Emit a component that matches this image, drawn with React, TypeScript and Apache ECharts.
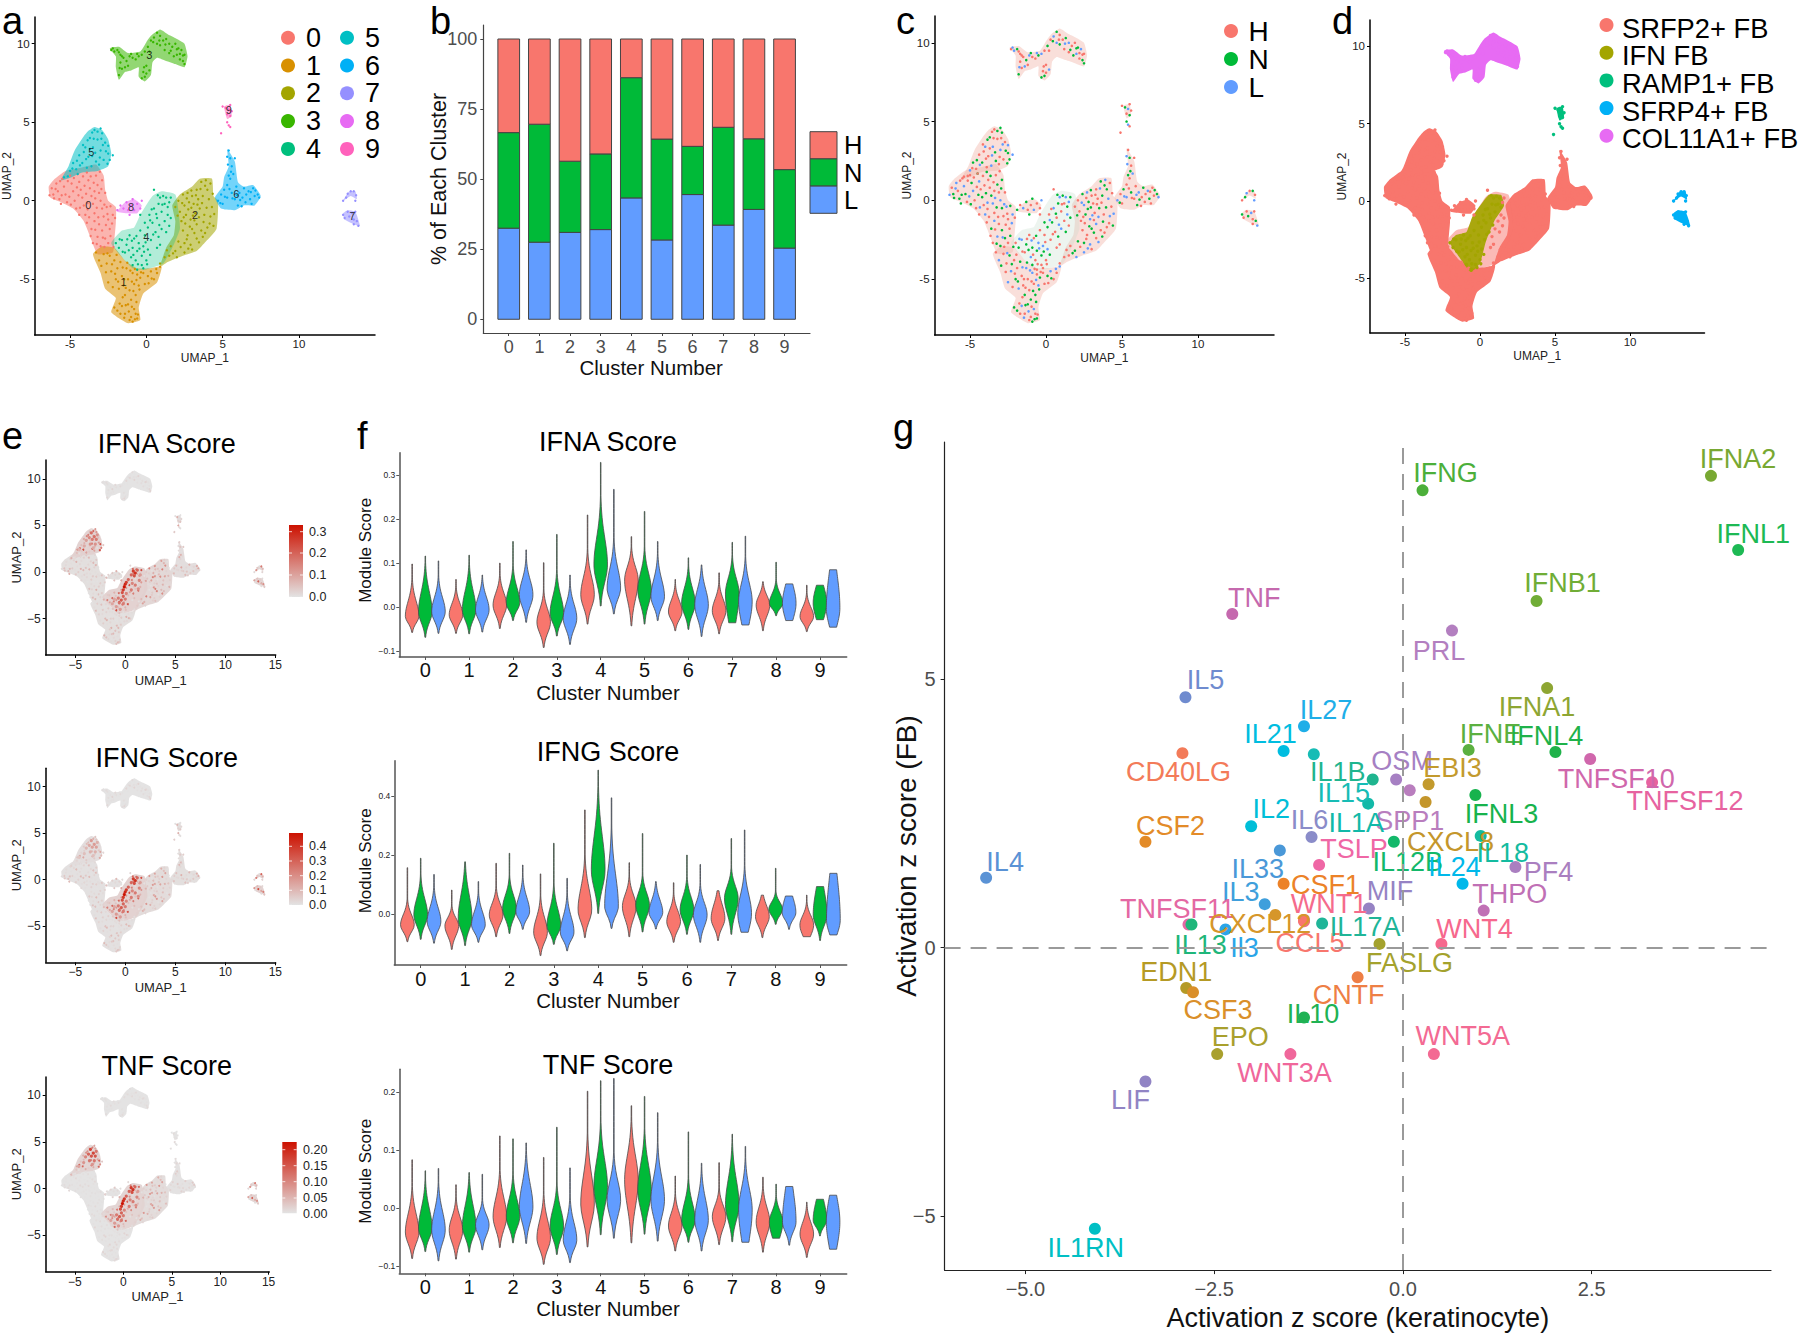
import React, { useEffect, useRef } from "react";
import * as echarts from "echarts";

const FONT = "Liberation Sans";

// ---- UMAP cells, one list per cluster ----
const cells0 = [[-6.2,0.8],[-6.1,0.4],[-5.9,1.1],[-5.8,0.6],[-5.7,0.1],[-5.5,1.4],[-5.4,0.9],[-5.3,0.4],[-5.2,-0.1],[-5.0,1.6],[-4.9,1.1],[-4.8,0.6],[-4.7,0.0],[-4.6,-0.5],[-4.5,1.7],[-4.4,1.2],[-4.3,0.7],[-4.2,0.2],[-4.1,-0.3],[-4.0,-0.9],[-3.9,1.8],[-3.8,1.3],[-3.7,0.8],[-3.6,0.3],[-3.5,-0.2],[-3.4,-0.8],[-3.9,-1.4],[-3.6,-1.8],[-3.4,-1.3],[-3.3,1.6],[-3.2,1.0],[-3.1,0.5],[-3.0,0.0],[-2.9,-0.5],[-2.8,-1.0],[-3.1,-1.5],[-2.9,-1.9],[-2.6,-0.4],[-2.5,-1.2],[-2.4,-1.8],[-2.7,-2.4],[-3.2,-2.3],[-3.5,-2.7],[-3.0,-2.9],[-2.5,-2.7],[-2.2,-0.9],[-2.9,1.3],[-3.4,0.6],[-4.4,-0.9],[-5.6,-0.2],[-6.35,0.35],[-2.05,-1.1],[-2.7,0.5],
  [-6.05,0.15],[-5.95,0.75],[-5.65,1.25],[-5.55,0.35],[-5.15,1.25],[-5.05,0.25],[-4.95,-0.25],[-4.75,1.45],[-4.55,0.85],[-4.45,0.35],[-4.35,-0.45],[-4.15,1.55],[-4.05,0.95],[-3.95,0.45],[-3.85,-0.15],[-3.75,-1.05],[-3.65,1.55],[-3.45,1.15],[-3.35,0.15],[-3.25,-0.45],[-3.15,-1.05],[-3.05,1.85],[-2.95,0.75],[-2.75,-0.25],[-2.65,-1.55],[-2.55,-0.85],[-2.35,-0.35],[-2.25,-1.45],[-2.75,-2.95],[-3.25,-2.75],[-3.35,-1.85],[-2.85,-2.35],[-2.35,-2.25],[-3.65,-2.25],[-3.85,-0.55],[-2.15,-2.95]];
const cells1 = [[-3.1,-3.8],[-2.8,-3.4],[-2.6,-4],[-2.4,-3.5],[-2.3,-4.5],[-2.1,-3.8],[-2,-5],[-1.9,-4.3],[-1.8,-5.6],[-1.7,-3.9],[-1.6,-4.8],[-1.5,-5.4],[-1.4,-6],[-1.3,-4.3],[-1.2,-5],[-1.1,-5.7],[-1,-6.3],[-0.9,-4.6],[-0.8,-5.3],[-0.7,-6],[-0.6,-4.7],[-0.5,-5.4],[-0.4,-4.9],[-0.2,-4.6],[-0.1,-5.3],[0.1,-4.8],[0.3,-4.5],[0.5,-5],[0.7,-4.6],[-1.9,-7],[-1.6,-6.7],[-1.4,-7.2],[-1.2,-6.6],[-1,-7.4],[-0.8,-6.9],[-0.6,-7.5],[-0.7,-7.2],[-1.7,-7.2],[-2.1,-6.8],[-2.5,-5.2],[-2.2,-5.5],[-1.1,-7.6],[-0.9,-7.7],[0.9,-4.2],[-3.3,-3.3],
  [-2.95,-4.15],[-2.65,-4.55],[-2.55,-3.35],[-2.25,-4.05],[-2.05,-4.65],[-1.95,-3.45],[-1.85,-5.15],[-1.55,-4.25],[-1.45,-5],[-1.35,-5.55],[-1.25,-3.95],[-1.05,-4.45],[-0.95,-5.15],[-0.85,-5.75],[-0.75,-4.35],[-0.65,-5.05],[-0.45,-5.65],[-0.35,-4.55],[0.15,-5.25],[0.35,-4.95],[0.65,-4.35],[-1.55,-6.15],[-1.75,-6.55],[-1.35,-6.65],[-1.15,-7.05],[-0.95,-6.75],[-0.75,-7.55],[-0.55,-7.25],[-1.45,-7.45],[-0.65,-6.45]];
const cells2 = [[1.9,-0.4],[2.1,0],[2.4,0.4],[2.7,0.5],[3,0.3],[3.3,0.7],[3.6,1.2],[3.9,1.3],[4.2,1.1],[4,0.7],[2.2,-0.7],[2.5,-0.3],[2.8,-0.1],[3.1,-0.2],[3.4,0.1],[3.7,0.3],[4.1,0.1],[4.3,-0.4],[2.3,-1.3],[2.6,-0.9],[2.9,-1.2],[3.2,-0.8],[3.5,-0.5],[3.8,-0.9],[4.2,-1],[4.4,-1.6],[2.4,-1.9],[2.7,-2.2],[3,-1.8],[3.3,-1.5],[3.6,-1.9],[4,-1.7],[2.5,-2.7],[2.9,-2.8],[3.3,-2.4],[3.7,-2.3],[3,-3.1],[2.5,-3.3],[1.9,-3.2],[1.5,-3.5],[1.2,-3.6],[2.1,-2.6],[2,-3.6],[1.6,-2.9],[0.9,-4],
  [2.05,-0.95],[2.35,-0.15],[2.65,0.15],[2.95,0.65],[3.25,0.35],[3.55,0.75],[3.85,0.95],[4.35,0.45],[2.45,-1.05],[2.75,-0.55],[3.05,-0.95],[3.35,-0.25],[3.65,-0.15],[3.95,-0.45],[4.45,-0.85],[2.55,-1.45],[2.85,-1.65],[3.15,-1.25],[3.45,-1.05],[3.75,-1.35],[4.15,-1.45],[2.65,-2.45],[3.15,-2.05],[3.45,-2.65],[3.85,-2.05],[2.25,-2.95],[1.75,-3.35],[2.75,-3.05],[1.35,-3.15],[2.95,-0.45]];
const cells3 = [[-2.3,9.6],[-2.1,9.5],[-1.9,9.6],[-1.7,9.3],[-1.5,9.1],[-1.3,8.9],[-1.1,9.2],[-0.9,9.1],[-0.7,9],[-0.5,9.2],[-0.3,9.3],[-0.1,9.5],[0.1,9.8],[0.3,10.2],[0.5,10.4],[0.7,10.7],[0.9,10.5],[1.1,10.2],[1.3,10.3],[1.5,10],[1.7,9.8],[1.9,10],[2.1,9.7],[2.3,9.6],[2.5,9.3],[2.4,8.9],[2.2,9],[2,9.3],[1.8,9.2],[1.5,9.4],[1.2,9.6],[0.9,9.9],[0.7,10],[-1.7,8.8],[-1.6,8.4],[-1.8,8],[-1.4,8.5],[-0.2,8.2],[-0.1,7.9],[0,8.1],[0.2,8.3],[-0.3,7.8],[0,8.6],[-1.2,8.6],[2.5,8.7],
  [-2.2,9.7],[-1.8,9.45],[-1.6,9.2],[-1,9.35],[-0.6,9.35],[0.2,9.5],[0.45,10.1],[0.85,10.2],[1.25,9.95],[1.6,9.55],[2.2,9.35],[2.4,9.25],[2,9.65],[-1.75,8.45],[-0.15,8.5]];
const cells4Core = [[-2,-2.7],[-1.8,-3],[-1.6,-2.5],[-1.4,-3.3],[-1.3,-2.8],[-1.1,-2.2],[-1,-3.6],[-0.9,-3],[-0.8,-2.4],[-0.7,-3.8],[-0.6,-3.2],[-0.5,-2.7],[-0.4,-1.9],[-0.3,-4.1],[-0.3,-3.5],[-0.2,-2.9],[-0.1,-2.2],[-0.1,-1.4],[0,-3.8],[0.1,-3.1],[0.1,-1.7],[0.2,-0.9],[0.3,-2.5],[0.4,-1.4],[0.5,-0.5],[0.6,-2],[0.7,-1.1],[0.8,-0.2],[0.9,0.2],[1,-0.7],[1.1,0.3],[1.2,-0.2],[1.3,0.2],[1.4,-0.4],[-0.2,-4.3],[-0.6,-4.4],[-0.9,-4.1],
  [-1.75,-2.45],[-1.55,-3.25],[-1.25,-2.45],[-1.15,-3.15],[-0.95,-2.55],[-0.85,-3.45],[-0.65,-2.25],[-0.55,-4.05],[-0.45,-3.05],[-0.15,-3.25],[-0.05,-2.65],[0.05,-4.05],[0.25,-3.45],[0.25,-1.25],[0.45,-2.15],[0.35,-0.55],[0.65,-0.85],[0.85,-1.55],[1.05,-0.25],[0.75,0.35]];
const cells4Fringe = [[0.8,-2.3],[1,-1.8],[1.2,-1.3],[1.3,-2],[1.5,-1.6],[1.4,-0.9],[1.6,-1.1],[0.7,-3],[0.9,-2.8],[1.6,0.2],[1.5,-0.1],[-0.4,-0.9],[0.5,0.7]];
const cells5 = [[-5.4,1.5],[-5,1.9],[-4.8,2.4],[-4.6,2],[-4.4,2.9],[-4.2,2.4],[-4,3.4],[-3.9,2.1],[-3.8,2.8],[-3.7,4],[-3.5,3.4],[-3.4,4.5],[-3.3,2.5],[-3.2,3.9],[-3,3.2],[-2.9,4.3],[-2.8,2.6],[-2.7,3.7],[-2.5,3],[-3.6,2.2],[-3.1,2.3],[-4.5,1.7],[-2.4,2.6],[-2.2,2.9],[-3.7,3.3],[-3.2,4.4],[-4.1,3.1],[-2.5,3.5],[-3,4.6],
  [-5.15,1.55],[-4.85,2.05],[-4.55,2.55],[-4.35,2.25],[-4.15,3.55],[-3.95,2.65],[-3.85,3.85],[-3.55,2.85],[-3.45,3.95],[-3.35,3.05],[-3.05,2.75],[-2.85,3.55],[-2.65,3.15],[-2.95,3.95],[-3.55,4.35],[-2.55,2.35]];
const cells6 = [[4.7,0],[4.9,0.4],[5,-0.2],[5.1,0.7],[5.3,0.2],[5.3,1],[5.4,1.6],[5.4,3.2],[5.3,2.8],[5.5,2.7],[5.6,2.2],[5.5,1.4],[5.6,0.5],[5.7,1.7],[5.8,0.1],[5.9,0.9],[6,-0.3],[6.1,0.5],[6.3,0.2],[6.4,0.8],[6.5,-0.1],[6.7,0.6],[6.8,0.1],[7,0.8],[7.1,0.3],[7.3,0.4],[7.4,0.2],[5.8,2.7],[6.9,-0.2],
  [4.85,-0.15],[5.15,0.25],[5.45,0.75],[5.55,1.85],[5.65,0.15],[5.95,0.35],[6.15,0.05],[6.55,0.4],[6.85,0.55],[7.15,0.65],[5.35,2.3],[6.25,-0.35]];
const cells7 = [[12.9,0],[13.1,0.2],[13.2,0.45],[13.4,0.6],[13.6,0.6],[13.75,0.35],[13.7,0],[12.9,-0.9],[13,-1.1],[13.2,-0.7],[13.3,-1],[13.5,-0.8],[13.6,-1.2],[13.7,-0.7],[13.8,-1.3],[13.9,-1.6],[13.6,-1.5]];
const cells8 = [[-1.9,-0.6],[-1.7,-0.3],[-1.5,-0.5],[-1.3,-0.1],[-1.2,-0.6],[-1,-0.3],[-0.9,0.1],[-0.8,-0.6],[-0.6,-0.2],[-0.4,-0.5],[-1.1,-0.9],[-0.3,0]];
const cells9 = [[5,6],[5.2,5.9],[5.3,5.5],[5.4,5.8],[5.5,5.4],[5.5,6.1],[5.6,5.7],[5.3,5],[5.4,4.8],[4.9,4.3],[5.5,4.7]];
const cellLists = [cells0, cells1, cells2, cells3, cells4Core, cells5, cells6, cells7, cells8, cells9, cells4Fringe];
const cellListCluster = [0, 1, 2, 3, 4, 5, 6, 7, 8, 9, 4];

// dense parts of the clusters, read as outlines in UMAP units
const outline0 = [[-6.4,0.9],[-6,1.4],[-5.3,1.9],[-4.3,2.1],[-3.3,2.3],[-2.8,1.6],[-2.7,0.7],[-2.5,0],[-2,-0.4],[-2,-1.4],[-2.1,-2.5],[-2.2,-3.3],[-3.2,-3.4],[-3.6,-2.5],[-4.1,-1.3],[-4.8,-0.5],[-5.6,-0.1],[-6.3,0.2]];
const outline1 = [[-3.5,-3.4],[-2.9,-2.9],[-2.1,-3],[-1.4,-3.8],[-0.6,-4.3],[0.2,-4.3],[1,-4.2],[0.7,-5.2],[-0.2,-5.9],[-0.5,-6.8],[-0.4,-7.6],[-1.2,-7.8],[-2.3,-7.1],[-2,-6.2],[-2.7,-5.6],[-3,-4.6]];
const outline2 = [[1.7,-0.3],[2.2,0.4],[3,0.9],[3.5,1.4],[4.3,1.4],[4.4,0.3],[4.7,0],[4.6,-1.8],[3.9,-2.6],[3.3,-3.2],[2.4,-3.5],[1.4,-3.9],[0.9,-4.2],[1.3,-3],[1.8,-2.2],[1.9,-1.3]];
const outline3 = [[-2.4,9.7],[-1.8,9.8],[-1.2,9.4],[-0.4,9.5],[0,10.1],[0.3,10.5],[0.9,10.9],[1.4,10.6],[2,10.3],[2.5,10],[2.7,9.2],[2.5,8.5],[1.9,8.7],[1.3,8.9],[0.7,9.1],[0.4,8.8],[0.3,8],[-0.1,7.6],[-0.5,7.9],[-0.5,8.5],[-1,8.3],[-1.4,8.2],[-1.8,7.7],[-2,8.5],[-2,9.2]];
const outline4 = [[-2.3,-2.7],[-1.6,-1.9],[-0.8,-1.7],[-0.4,-0.9],[0.4,0.3],[1,0.6],[1.9,0.4],[2.1,-0.6],[2.2,-1.8],[1.7,-3],[1.1,-4],[-0.1,-4.4],[-0.9,-4.3],[-1.6,-3.6]];
const outline5 = [[-5.6,1.3],[-5.1,2.2],[-4.7,3.2],[-4.1,4.1],[-3.8,4.45],[-3.4,4.7],[-2.9,4.5],[-2.5,3.9],[-2.3,3],[-2.5,2.2],[-3.2,1.9],[-4.2,1.8],[-4.9,1.5]];
const outline6 = [[4.5,0.2],[5,0.9],[5.1,1.5],[5.4,2.2],[5.3,3.3],[5.8,2.5],[6,1.2],[6.4,0.9],[7,1],[7.5,0.3],[7.1,-0.3],[6.4,-0.3],[5.8,-0.6],[4.9,-0.5]];
const outline7a = [[12.9,0],[13.3,0.6],[13.7,0.6],[13.8,0.1],[13.4,0.3]];
const outline7b = [[12.9,-0.8],[13.2,-0.6],[13.7,-0.7],[14,-1.6],[13.6,-1.5],[13,-1.2]];
const outline8 = [[-1.9,-0.7],[-1.4,-0.1],[-0.8,0.1],[-0.3,-0.3],[-0.6,-0.8],[-1.2,-0.8]];
const outline9 = [[5.1,6],[5.5,6.1],[5.6,5.4],[5.3,5.2]];
const outlineIfnCore = [[-2,-2.7],[-1.6,-2.2],[-0.9,-2],[-0.5,-1],[0.6,0.4],[1.4,0.4],[1.6,-0.3],[1,-1.2],[0.4,-2.6],[0,-4],[-0.6,-4.6],[-1.4,-3.6]];
const outlines = [outline0, outline1, outline2, outline3, outline4, outline5, outline6, outline7a, outline7b, outline8, outline9];
const outlineCluster = [0, 1, 2, 3, 4, 5, 6, 7, 7, 8, 9];

const clusterCentreLabels = ["0","1","2","3","4","5","6","7","8","9"];
const clusterCentres = [[-3.8,-0.3],[-1.5,-5.2],[3.2,-0.9],[0.2,9.3],[0,-2.3],[-3.6,3.1],[5.9,0.4],[13.5,-1],[-1,-0.4],[5.4,5.8]];

// ---- b ----
const clusterNames = ["0","1","2","3","4","5","6","7","8","9"];
const shareL = [32.5,27.5,31,32,43.3,28.3,44.5,33.6,39.2,25.4];
const shareN = [34.1,42.1,25.4,27,42.9,36,17.2,34.9,25.2,28];
const shareH = [33.4,30.4,43.6,41,13.8,35.7,38.3,31.5,35.6,46.6];

// ---- f: violins, [low, widest, shoulder, high, flat] H,N,L per cluster; flat: 1 bottom, 2 top, 3 both ----
const violinsIFNA = [
  [-.057,-.02,.04,.098,0],[-.068,-.01,.07,.116,0],[-.059,-.01,.047,.105,0],
  [-.059,-.017,.028,.063,0],[-.06,-.006,.07,.118,0],[-.056,-.006,.047,.073,0],
  [-.048,.005,.054,.1,0],[-.03,.01,.07,.149,0],[-.034,.028,.088,.13,0],
  [-.091,-.034,.017,.101,0],[-.065,-.014,.054,.165,0],[-.084,-.025,.032,.073,0],
  [-.038,.028,.1,.209,0],[.003,.096,.205,.328,0],[-.015,.043,.122,.267,0],
  [-.042,.062,.115,.16,0],[-.038,.039,.107,.217,0],[-.03,.024,.092,.149,0],
  [-.053,-.01,.035,.063,0],[-.05,.009,.07,.112,0],[-.066,.005,.07,.096,0],
  [-.06,-.008,.039,.078,0],[-.035,.032,.092,.147,1],[-.04,.013,.085,.161,1],
  [-.053,.005,.043,.058,0],[-.019,.009,.047,.102,0],[-.03,.009,.053,.053,3],
  [-.055,-.021,.017,.05,0],[-.028,.01,.05,.05,3],[-.045,-.002,.03,.085,3],
];
const violinsIFNG = [
  [-.094,-.037,.025,.157,0],[-.086,-.003,.093,.189,0],[-.099,-.026,.059,.134,0],
  [-.12,-.04,.008,.081,0],[-.107,-.015,.127,.177,0],[-.096,-.037,.042,.11,0],
  [-.077,-.003,.064,.172,0],[-.066,.019,.098,.206,0],[-.052,.008,.093,.166,0],
  [-.141,-.062,.025,.136,0],[-.103,-.04,.059,.24,0],[-.125,-.062,.03,.121,0],
  [-.08,.014,.144,.353,0],[.002,.149,.353,.488,0],[-.049,.025,.217,.394,0],
  [-.077,.025,.098,.174,0],[-.061,.03,.104,.273,0],[-.051,.005,.081,.11,0],
  [-.096,-.026,.042,.106,0],[-.069,.014,.093,.2,0],[-.096,-.003,.07,.168,0],
  [-.09,-.015,.07,.079,0],[-.069,.053,.127,.256,0],[-.062,.002,.115,.285,1],
  [-.08,-.009,.059,.064,0],[-.035,.016,.059,.155,0],[-.052,.005,.059,.061,2],
  [-.077,-.037,.019,.064,1],[-.09,-.003,.093,.093,2],[-.071,-.02,.036,.138,3],
];
const violinsTNF = [
  [-.087,-.042,.014,.083,0],[-.075,-.035,.025,.064,0],[-.091,-.038,.02,.068,0],
  [-.088,-.038,.002,.04,0],[-.076,-.032,.031,.061,0],[-.072,-.029,.002,.058,0],
  [-.068,-.015,.042,.124,0],[-.06,-.015,.037,.119,0],[-.061,.002,.071,.112,0],
  [-.097,-.052,.002,.087,0],[-.08,-.032,.02,.139,0],[-.094,-.055,-.003,.069,0],
  [-.067,.008,.094,.201,0],[-.046,.037,.117,.219,0],[-.052,.014,.071,.223,0],
  [-.06,.048,.123,.176,0],[-.045,.031,.106,.192,0],[-.057,.014,.083,.164,0],
  [-.074,-.031,.008,.055,0],[-.059,-.021,.031,.131,0],[-.074,-.021,.042,.077,0],
  [-.063,-.015,.02,.078,0],[-.058,.005,.083,.127,0],[-.059,-.003,.06,.106,1],
  [-.076,-.024,.02,.053,0],[-.052,-.024,.008,.041,1],[-.064,-.024,.008,.037,2],
  [-.085,-.045,-.009,.01,0],[-.048,-.021,.015,.015,2],[-.071,-.024,.022,.022,3],
];

// ---- e: how strong each cluster looks in the three feature plots (share of the colour bar) ----
const scoreIFNA = [.1,.1,.2,.03,.3,.3,.12,.25,.1,.12];
const scoreIFNG = [.08,.08,.15,.03,.3,.12,.1,.3,.08,.1];
const scoreTNF = [.02,.03,.15,.02,.25,.25,.05,.25,.05,.02];
const dotVariation = [0.2,1.6,0.5,0.1,2.0,0.8,0.3,1.2,0.1,0.6,2.4,0.4,1];
const hotCluster4 = [[-0.1,-1.6,1],[0,-1.3,.9],[-0.2,-1.9,.8],[0.1,-1.1,.8],[0.8,0.1,.8],[1,-0.1,.85],[0.9,-0.4,.7],[1.2,0.2,.6],[0.6,-0.3,.6],[0.3,-0.8,.6],[-0.2,-2.6,.6],[-0.4,-3,.65],[-0.6,-3.3,.55],[-0.2,-3.4,.5],[-0.7,-2.8,.5],[-0.9,-3.7,.35],[-0.5,-4,.35],[-1.1,-2.9,.3],[0,-2.9,.5],[0.6,-1.9,.5],[1,-1.4,.5],[1.4,-0.9,.45],[1.3,-1.8,.4],[0.7,-1.2,.45],[1.5,-0.3,.35],[-0.3,-2.2,.7],[0.1,-2.3,.45],[-1.3,-3.4,.3]];
const hotCluster5 = [[-3.4,4.2,1],[-3.1,3.8,1],[-3.3,3.5,.9],[-2.9,3.5,.9],[-3.6,3.7,.8],[-3,3,.7],[-3.5,3,.7],[-3.9,3.4,.6],[-2.8,4,.7],[-4.1,2.8,.5],[-3.2,2.6,.5],[-4.6,2.4,.4]];
const hot5Strength = [.55, .35, .75];

// ---- g ----
const genes = ["IFNA2","IFNG","IFNL1","IFNB1","TNF","PRL","IL5","IFNA1","IL27","IL21","IL15","CD40LG","IFNE","IFNL4","TNFSF10","TNFSF12","IL1B","OSM","SPP1","EBI3","CXCL8","IFNL3","IL2","IL6","IL1A","IL12B","IL18","CSF2","IL33","TSLP","PF4","IL24","CSF1","IL4","IL3","MIF","THPO","TNFSF11","IL13","WNT1","CXCL12","CCL5","IL17A","Il3","FASLG","WNT4","CNTF","EDN1","CSF3","IL10","EPO","WNT3A","WNT5A","LIF","IL1RN"];
const keratinocyteZ = [4.08,.26,4.44,1.77,-2.26,.65,-2.88,1.91,-1.31,-1.58,-1.18,-2.92,.87,2.02,2.48,3.3,-.4,-.09,.09,.34,.3,.96,-2.01,-1.21,-.46,-.12,1.03,-3.41,-1.63,-1.11,1.49,.79,-1.58,-5.52,-1.83,-.45,1.07,-2.84,-2.8,-1.31,-1.69,-1.31,-1.07,-2.35,-.31,.51,-.6,-2.87,-2.78,-1.31,-2.46,-1.49,.41,-3.41,-4.08];
const fibroblastZ = [8.78,8.51,7.4,6.45,6.21,5.9,4.66,4.83,4.12,3.66,3.6,3.62,3.68,3.64,3.51,3.08,3.13,3.13,2.93,3.04,2.71,2.84,2.26,2.06,2.68,1.97,2.08,1.97,1.81,1.54,1.5,1.19,1.19,1.3,.81,.73,.69,.43,.43,.49,.61,.51,.45,.34,.07,.07,-.55,-.75,-.83,-1.3,-1.98,-1.98,-1.98,-2.49,-5.23];
const geneColors = ["#78A832","#4CAF3A","#1DB954","#70AD36","#C569AE","#B37FC0","#6F8BCF","#8EA633","#1EAEE8","#00BDE0","#17BCB5","#F37B59","#5BB040","#1FB24A","#D067AC","#E763A0","#1FB58F","#A680C3","#B97EBE","#C39A2D","#C4962B","#17B34D","#00BED8","#8A8CC9","#12B9A8","#13B86A","#14BBA0","#E38B28","#4A98D8","#EF67A5","#AA7FC0","#00B8EA","#EC8228","#5A92D5","#3F9FDC","#9683C4","#C070B5","#E468A3","#1FB67A","#F56B8C","#D6962A","#F8766D","#20B598","#2BA5E8","#A4A22D","#F6688D","#EE7F45","#B59A25","#DA8F2A","#20B254","#A9A02D","#F0679B","#F36A93","#9184C4","#00BFC4"];
const geneLabelDx = [27,23,15,26,22,-13,20,-10,22,-13,30,-4,22,-9,26,33,-35,6,0,24,25,26,20,-2,-12,14,22,25,-22,35,33,-8,42,19,-24,21,26,-11,9,25,-15,6,43,19,30,33,-9,-10,25,9,23,-6,29,-15,-9];
const geneLabelDy = [-17,-17,-16,-18,-16,20,-17,19,-16,-17,39,19,-16,-16,20,19,-7,-18,31,-16,40,19,-17,-17,19,20,17,-16,19,-16,5,-17,1,-16,-12,-17,-17,-16,20,-17,9,23,4,19,19,-15,18,-16,18,-4,-17,19,-18,19,19];

// ---- colours ----
const clusterColors = ["#F8766D","#D89000","#A3A500","#39B600","#00BF7D","#00BFC4","#00B0F6","#9590FF","#E76BF3","#FF62BC"];
const conditionColors = { H: "#F8766D", N: "#00BA38", L: "#619CFF" };
const conditionCycle = ["H","N","L","H","N","H","L","N","H","H","N","L","H"];
const subtypeNames = ["SRFP2+ FB","IFN FB","RAMP1+ FB","SFRP4+ FB","COL11A1+ FB"];
const subtypeColors = ["#F8766D","#A3A500","#00BF7D","#00B0F6","#E76BF3"];
const clusterSubtype = [0,0,0,4,1,0,0,3,0,2];

function mix(a: string, b: string, t: number) {
  const k = Math.max(0, Math.min(1, t));
  const p = (h: string, i: number) => parseInt(h.slice(i, i + 2), 16);
  const c = [1, 3, 5].map((i) => Math.round(p(a, i) + (p(b, i) - p(a, i)) * k));
  return `rgb(${c[0]},${c[1]},${c[2]})`;
}
const GREY = "#E3E3E3";
const RED = "#CC1100";

function axis(gridIndex: number, min: number, max: number, ticks: number[], o: any) {
  const col = o.lineColor || "#000";
  return {
    type: "value", gridIndex, min, max,
    name: o.name, nameLocation: "middle", nameGap: o.nameGap, nameMoveOverlap: !o.freeName,
    nameTextStyle: { fontFamily: FONT, fontSize: o.nameSize, color: o.nameColor || "#222", fontWeight: o.nameWeight || "normal", padding: o.namePad || 0 },
    axisLine: { show: true, onZero: false, lineStyle: { color: col, width: o.lineWidth || 1.5 } },
    axisTick: { show: true, length: o.tickLen || 3, customValues: ticks, lineStyle: { color: col, width: 1 } },
    axisLabel: { show: true, customValues: ticks, margin: o.margin, fontFamily: FONT, fontSize: o.size, color: o.color || "#222", formatter: o.fmt || ((v: number) => String(v)) },
    splitLine: { show: false },
  };
}
const minusInt = (v: number) => String(v).replace("-", "\u2212");

export default function App() {
  const ref = useRef<HTMLDivElement>(null);
  useEffect(() => {
    document.body.style.margin = "0";
    const chart = echarts.init(ref.current!, undefined, { renderer: "svg" });
    const grid: any[] = [], xAxis: any[] = [], yAxis: any[] = [], series: any[] = [], graphic: any[] = [];

    const text = (t: string, x: number, y: number, size: number, o: any = {}) =>
      graphic.push({ type: "text", x, y, silent: true, style: { text: t, fontFamily: FONT, fontSize: size, fill: o.fill || "#000", align: o.align || "left", verticalAlign: "middle", fontWeight: o.weight || "normal" } });

    function addGrid(l: number, t: number, r: number, b: number) {
      grid.push({ left: l, top: t, width: r - l, height: b - t, containLabel: false, show: false });
      return grid.length - 1;
    }

    function regions(g: number, list: number[][][], style: (i: number) => { fill: string; opacity: number }) {
      series.push({
        type: "custom", xAxisIndex: g, yAxisIndex: g, silent: true, clip: true,
        data: list.map((o) => o[0]), encode: { x: 0, y: 1 },
        renderItem: (p: any, api: any) => {
          const pts = list[p.dataIndex].map((q) => api.coord(q));
          const s = style(p.dataIndex);
          return { type: "polygon", shape: { points: pts, smooth: 0.15 }, style: { fill: s.fill, opacity: s.opacity } };
        },
      });
    }
    function dots(g: number, color: (cluster: number, i: number, listIdx: number) => string, size: number) {
      const data: any[] = [];
      let n = 0;
      cellLists.forEach((list, li) => list.forEach((pt) => {
        data.push({ value: pt, itemStyle: { color: color(cellListCluster[li], n, li), opacity: 1 } });
        n++;
      }));
      series.push({ type: "scatter", xAxisIndex: g, yAxisIndex: g, silent: true, symbolSize: size, data });
    }
    const umapX = [-5, 0, 5, 10];
    const umapY = [-5, 0, 5, 10];

    // ---------- a ----------
    const gA = addGrid(33.7, 17, 375, 335);
    xAxis.push(axis(gA, -7.32, 14.99, umapX, { name: "UMAP_1", nameGap: 17, nameSize: 12, margin: 3, size: 11.5 }));
    yAxis.push(axis(gA, -8.55, 11.7, umapY, { name: "UMAP_2", nameGap: 19, nameSize: 12, margin: 5, size: 11.5 }));
    regions(gA, outlines, (i) => ({ fill: clusterColors[outlineCluster[i]], opacity: outlineCluster[i] === 4 ? 0.3 : 0.55 }));
    dots(gA, (c) => clusterColors[c], 2.4);
    series.push({
      type: "scatter", xAxisIndex: gA, yAxisIndex: gA, silent: true, symbolSize: 0,
      data: clusterCentres.map((v, i) => ({ value: v, name: clusterCentreLabels[i] })),
      label: { show: true, position: "inside", formatter: "{b}", fontFamily: FONT, fontSize: 11, color: "#000" },
    });
    clusterNames.forEach((n, i) => {
      const col = i < 5 ? 288 : 347;
      const y = 37.7 + (i % 5) * 27.8;
      graphic.push({ type: "circle", silent: true, shape: { cx: col, cy: y, r: 7 }, style: { fill: clusterColors[i] } });
      text(n, col + 18, y, 27);
    });

    // ---------- b ----------
    const gB = addGrid(483.3, 25, 810, 333);
    xAxis.push(axis(gB, -0.83, 9.83, [0,1,2,3,4,5,6,7,8,9], { name: "Cluster Number", nameGap: 23.5, nameSize: 20.5, nameColor: "#111", namePad: [0,0,0,9], margin: 5, size: 18, color: "#4d4d4d", lineColor: "#444", lineWidth: 1.2 }));
    yAxis.push(axis(gB, -4.9, 105, [0,25,50,75,100], { name: "% of Each Cluster", nameGap: 33, freeName: true, nameSize: 21.5, nameColor: "#111", margin: 6, size: 18, color: "#4d4d4d", lineColor: "#444", lineWidth: 1.2 }));
    const stackRows: number[][] = [];
    const stackColors: string[] = [];
    clusterNames.forEach((_, i) => {
      let base = 0;
      ([[shareL, conditionColors.L], [shareN, conditionColors.N], [shareH, conditionColors.H]] as [number[], string][]).forEach(([vals, color]) => {
        stackRows.push([i, base, base + vals[i]]);
        stackColors.push(color);
        base += vals[i];
      });
    });
    series.push({
      type: "custom", xAxisIndex: gB, yAxisIndex: gB, silent: true, clip: false,
      encode: { x: 0, y: [1, 2] }, data: stackRows,
      renderItem: (p: any, api: any) => {
        const a = api.coord([api.value(0), api.value(1)]);
        const b = api.coord([api.value(0), api.value(2)]);
        return { type: "rect", shape: { x: a[0] - 10.85, y: b[1], width: 21.7, height: a[1] - b[1] }, style: { fill: stackColors[p.dataIndex], stroke: "#444", lineWidth: 1 } };
      },
    });
    ["H", "N", "L"].forEach((n, i) => {
      graphic.push({ type: "rect", silent: true, shape: { x: 810, y: 131.7 + i * 27.2, width: 27, height: 27.2 }, style: { fill: (conditionColors as any)[n], stroke: "#444", lineWidth: 1 } });
      text(n, 844, 145 + i * 27.5, 25.5);
    });

    // ---------- c ----------
    const gC = addGrid(934.6, 16, 1274, 335);
    xAxis.push(axis(gC, -7.33, 15, umapX, { name: "UMAP_1", nameGap: 17, nameSize: 12, margin: 3, size: 11.5 }));
    yAxis.push(axis(gC, -8.55, 11.7, umapY, { name: "UMAP_2", nameGap: 21, nameSize: 12, margin: 5, size: 11.5 }));
    regions(gC, outlines, (i) => ({ fill: outlineCluster[i] === 4 ? "#C5DCC9" : "#F0B2A8", opacity: outlineCluster[i] === 4 ? 0.3 : 0.42 }));
    dots(gC, (c, i) => (conditionColors as any)[conditionCycle[i % conditionCycle.length]], 2.6);
    ["H", "N", "L"].forEach((n, i) => {
      const y = 31 + i * 28;
      graphic.push({ type: "circle", silent: true, shape: { cx: 1231, cy: y, r: 7 }, style: { fill: (conditionColors as any)[n] } });
      text(n, 1248.5, y, 28);
    });

    // ---------- d ----------
    const gD = addGrid(1370, 20, 1704.5, 333);
    xAxis.push(axis(gD, -7.33, 14.96, umapX, { name: "UMAP_1", nameGap: 17, nameSize: 12, margin: 3, size: 11.5 }));
    yAxis.push(axis(gD, -8.53, 11.7, umapY, { name: "UMAP_2", nameGap: 20, nameSize: 12, margin: 5, size: 11.5 }));
    regions(gD, [...outlines, outlineIfnCore], (i) => {
      if (i === outlines.length) return { fill: subtypeColors[1], opacity: 0.92 };
      const c = outlineCluster[i];
      if (c === 4) return { fill: subtypeColors[0], opacity: 0.5 };
      return { fill: subtypeColors[clusterSubtype[c]], opacity: 1 };
    });
    dots(gD, (c, i, li) => subtypeColors[li === 10 ? 0 : clusterSubtype[c]], 3.4);
    subtypeNames.forEach((n, i) => {
      const y = 25 + i * 27.7;
      graphic.push({ type: "circle", silent: true, shape: { cx: 1606.5, cy: y, r: 7 }, style: { fill: subtypeColors[i] } });
      text(n, 1622, y + 3, 27.3);
    });

    // ---------- e ----------
    const featurePanels = [
      { title: "IFNA Score", score: scoreIFNA, titleY: 444, box: [45.7, 460, 275.7, 655], xr: [-7.96, 15.04], yr: [-8.9, 12.03], xn: 18.5,
        bar: [289, 525, 303, 597], barLabels: [["0.3",531.7],["0.2",553],["0.1",575],["0.0",597.3]], labelX: 309, hot5: hot5Strength[0] },
      { title: "IFNG Score", score: scoreIFNG, titleY: 758.3, box: [45.7, 768.3, 275.7, 962.3], xr: [-7.96, 15.04], yr: [-8.87, 11.97], xn: 18.5,
        bar: [289, 833, 303, 905], barLabels: [["0.4",846.3],["0.3",861],["0.2",875.7],["0.1",890.3],["0.0",905.3]], labelX: 309, hot5: hot5Strength[1] },
      { title: "TNF Score", score: scoreTNF, titleY: 1066, box: [45.7, 1077, 269.3, 1271.7], xr: [-8.02, 15.07], yr: [-8.9, 11.97], xn: 18.5,
        bar: [282.3, 1142, 296.7, 1213.3], barLabels: [["0.20",1149.7],["0.15",1165.7],["0.10",1181.7],["0.05",1198],["0.00",1214.3]], labelX: 303, hot5: hot5Strength[2] },
    ];
    featurePanels.forEach((fp) => {
      const [l, t, r, b] = fp.box;
      const g = addGrid(l, t, r, b);
      xAxis.push(axis(g, fp.xr[0], fp.xr[1], [-5,0,5,10,15], { name: "UMAP_1", nameGap: fp.xn, nameSize: 13, margin: 4, size: 12, fmt: minusInt }));
      yAxis.push(axis(g, fp.yr[0], fp.yr[1], [-5,0,5,10], { name: "UMAP_2", nameGap: 22, nameSize: 13, margin: 5, size: 12, fmt: minusInt }));
      regions(g, outlines, (i) => ({ fill: mix(GREY, RED, fp.score[outlineCluster[i]] * 0.3), opacity: 0.95 }));
      dots(g, (c, i) => mix(GREY, RED, fp.score[c] * dotVariation[i % dotVariation.length]), 2);
      const hot = hotCluster4.map((h) => ({ value: [h[0], h[1]], itemStyle: { color: mix(GREY, RED, h[2]), opacity: 1 } }))
        .concat(hotCluster5.map((h) => ({ value: [h[0], h[1]], itemStyle: { color: mix(GREY, RED, h[2] * fp.hot5), opacity: 1 } })));
      series.push({ type: "scatter", xAxisIndex: g, yAxisIndex: g, silent: true, symbolSize: 3.2, data: hot });
      text(fp.title, 166.7, fp.titleY, 27, { align: "center" });
      const [bl, bt, br, bb] = fp.bar;
      graphic.push({ type: "rect", silent: true, shape: { x: bl, y: bt, width: br - bl, height: bb - bt },
        style: { fill: new echarts.graphic.LinearGradient(0, 0, 0, 1, [{ offset: 0, color: RED }, { offset: 1, color: GREY }]) } });
      (fp.barLabels as [string, number][]).forEach(([s, y]) => {
        text(s, fp.labelX, y, 12.5, { fill: "#222" });
        graphic.push({ type: "line", silent: true, shape: { x1: bl, y1: y, x2: bl + 3, y2: y }, style: { stroke: "#fff", lineWidth: 0.8 } });
        graphic.push({ type: "line", silent: true, shape: { x1: br - 3, y1: y, x2: br, y2: y }, style: { stroke: "#fff", lineWidth: 0.8 } });
      });
    });

    // ---------- f ----------
    const dodge = [-0.3, 0, 0.3];
    const violinFill = [conditionColors.H, conditionColors.N, conditionColors.L];
    const violinPanels = [
      { title: "IFNA Score", rows: violinsIFNA, titleY: 441.7, box: [399.3, 452.7, 846.7, 657], xr: [-0.593, 9.61], yr: [-0.1125, 0.35], ticks: [-.1,0,.1,.2,.3], yGap: 25, m: 3, xGap: 24.7, pad: [0,30,0,0], yPad: [0,0,0,9] },
      { title: "IFNG Score", rows: violinsIFNG, titleY: 752.3, box: [394.3, 760.7, 846.7, 965], xr: [-0.595, 9.6], yr: [-0.173, 0.52], ticks: [0,.2,.4], yGap: 20, m: 4, xGap: 24, pad: [0,25,0,0], yPad: [0,0,0,4] },
      { title: "TNF Score", rows: violinsTNF, titleY: 1065, box: [399.3, 1069.3, 846.7, 1273.3], xr: [-0.593, 9.61], yr: [-0.1124, 0.2387], ticks: [-.1,0,.1,.2], yGap: 25, m: 4, xGap: 24, pad: [0,30,0,0], yPad: 0 },
    ];
    violinPanels.forEach((vp) => {
      const [l, t, r, b] = vp.box;
      const g = addGrid(l, t, r, b);
      xAxis.push(axis(g, vp.xr[0], vp.xr[1], [0,1,2,3,4,5,6,7,8,9], { name: "Cluster Number", nameGap: vp.xGap, nameSize: 20.5, nameColor: "#111", namePad: vp.pad, margin: vp.m, size: 20, color: "#111", lineColor: "#555" }));
      yAxis.push(axis(g, vp.yr[0], vp.yr[1], vp.ticks, { name: "Module Score", nameGap: vp.yGap, nameSize: 17, nameColor: "#111", namePad: vp.yPad, margin: 4, size: 8.5, color: "#222", lineColor: "#555", fmt: (v: number) => v.toFixed(1).replace("-", "\u2212") }));
      series.push({
        type: "custom", xAxisIndex: g, yAxisIndex: g, silent: true, clip: false,
        encode: { x: 0, y: [1, 2, 3, 4] },
        data: vp.rows.map((row, i) => [Math.floor(i / 3) + dodge[i % 3], row[0], row[1], row[2], row[3], row[4], i % 3]),
        renderItem: (_: any, api: any) => {
          const cx = api.value(0), low = api.value(1), mid = api.value(2), sh = api.value(3), high = api.value(4), flat = api.value(5);
          const halfW = 0.155;
          const sdUp = flat >= 2 ? (high - mid) / 1.15 : Math.max(sh - mid, 1e-4) / 1.8;
          const sdDn = flat === 1 || flat === 3 ? (mid - low) / 1.15 : (mid - low) / 2.4;
          const width = (y: number) => {
            const sd = y >= mid ? sdUp : sdDn;
            const z = (y - mid) / sd;
            return Math.max(halfW * Math.exp(-z * z / 2), 0.006);
          };
          const steps = 26;
          const right: number[][] = [], left: number[][] = [];
          for (let k = 0; k <= steps; k++) {
            const y = low + (high - low) * (k / steps);
            const w = width(y);
            right.push(api.coord([cx + w, y]));
            left.unshift(api.coord([cx - w, y]));
          }
          return { type: "polygon", shape: { points: right.concat(left) }, style: { fill: violinFill[api.value(6)], stroke: "#4a4a4a", lineWidth: 0.8 } };
        },
      });
      text(vp.title, 608, vp.titleY, 27, { align: "center" });
    });

    // ---------- g ----------
    const gG = addGrid(944.6, 442, 1771, 1275.6);
    xAxis.push(axis(gG, -6.07, 4.875, [-5,-2.5,0,2.5], { name: "Activation z score (keratinocyte)", nameGap: 31, nameSize: 27, nameColor: "#111", margin: 9, size: 20, color: "#4d4d4d", lineColor: "#222", lineWidth: 1.2, tickLen: 4, fmt: (v: number) => v.toFixed(1).replace("-", "\u2212") }));
    yAxis.push(axis(gG, -6, 9.41, [-5,0,5], { name: "Activation z score (FB)", nameGap: 24, freeName: true, nameSize: 28, nameColor: "#111", nameWeight: 500, margin: 9, size: 20, color: "#4d4d4d", lineColor: "#222", lineWidth: 1.2, tickLen: 4, fmt: minusInt }));
    series.push({
      type: "scatter", xAxisIndex: gG, yAxisIndex: gG, silent: true, symbolSize: 12,
      data: genes.map((g, i) => ({
        name: g, value: [keratinocyteZ[i], fibroblastZ[i]],
        itemStyle: { color: geneColors[i], opacity: 1 },
        label: { show: true, position: "inside", formatter: g, color: geneColors[i], fontFamily: FONT, fontSize: 27 },
      })),
      labelLayout: (p: any) => ({ dx: geneLabelDx[p.dataIndex], dy: geneLabelDy[p.dataIndex], hideOverlap: false }),
      markLine: {
        silent: true, symbol: "none", label: { show: false },
        lineStyle: { type: [16, 10], color: "#9a9a9a", width: 2 },
        data: [{ xAxis: 0 }, { yAxis: 0 }],
      },
    });

    // panel letters
    const letters: [string, number, number][] = [["a",2,21],["b",430,21],["c",896,21],["d",1332,21],["e",2,436],["f",357,436],["g",893,428]];
    letters.forEach(([l, x, y]) => text(l, x, y, 38));

    chart.setOption({ animation: false, backgroundColor: "#fff", grid, xAxis, yAxis, series, graphic });
    return () => chart.dispose();
  }, []);
  return <div ref={ref} style={{ position: "fixed", left: 0, top: 0, width: 1800, height: 1336 }} />;
}
